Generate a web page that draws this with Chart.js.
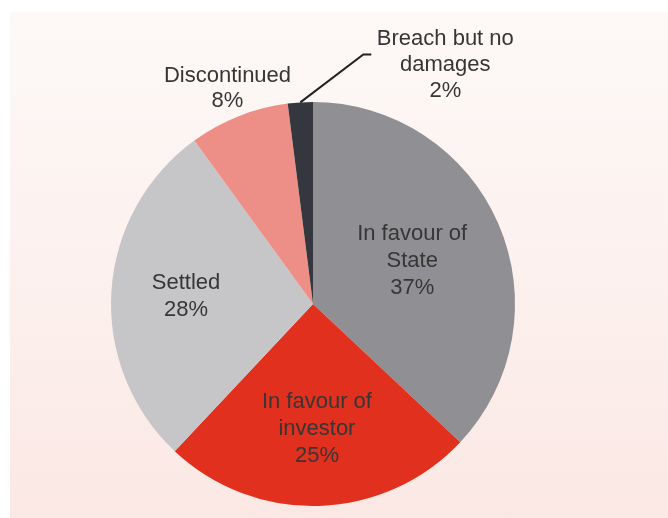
<!DOCTYPE html>
<html>
<head>
<meta charset="utf-8">
<script src="https://cdn.jsdelivr.net/npm/chart.js@4/dist/chart.umd.min.js"></script>
<style>
  html, body { margin: 0; padding: 0; background: #ffffff; }
  #wrap { position: relative; width: 668px; height: 518px; overflow: hidden; }
  #bg { position: absolute; left: 10px; top: 12px; right: 0; bottom: 0;
        background: linear-gradient(to bottom, #fdf9f7 0%, #fcf1ee 50%, #fbe8e4 100%); }
  canvas { position: absolute; left: 0; top: 0; }
</style>
</head>
<body>
<div id="wrap">
  <div id="bg"></div>
  <canvas id="c" width="668" height="518"></canvas>
</div>
<script>
// ---- data ----
const categories = ["In favour of State", "In favour of investor", "Settled", "Discontinued", "Breach but no damages"];
const shares = [37, 25, 28, 8, 2];
const sliceColors = ["#909094", "#e1301e", "#c6c6c9", "#ee8f87", "#34383e"];
const labelLines = [
  ["In favour of", "State", "37%"],
  ["In favour of", "investor", "25%"],
  ["Settled", "28%"],
  ["Discontinued", "8%"],
  ["Breach but no", "damages", "2%"]
];
// radial placement of each label as a fraction of the pie radius
const labelRadius = [0.535, 0.62, 0.63, 1.15, null];

const labelPlugin = {
  id: 'sliceLabels',
  afterDatasetsDraw(chart) {
    const ctx = chart.ctx;
    const meta = chart.getDatasetMeta(0);
    ctx.save();
    ctx.font = '22px "Liberation Sans", Arial, sans-serif';
    ctx.fillStyle = '#363636';
    ctx.textAlign = 'center';
    ctx.textBaseline = 'middle';
    meta.data.forEach((arc, i) => {
      const p = arc.getProps(['x', 'y', 'startAngle', 'endAngle', 'outerRadius'], true);
      const mid = (p.startAngle + p.endAngle) / 2;
      const lines = labelLines[i];
      let cx, cy, lh;
      if (labelRadius[i] !== null) {
        const r = p.outerRadius * labelRadius[i];
        cx = p.x + Math.cos(mid) * r;
        cy = p.y + Math.sin(mid) * r;
        lh = i < 3 ? 27 : 25;
      } else {
        // callout with leader line
        const ex = p.x + Math.cos(mid) * p.outerRadius;
        const ey = p.y + Math.sin(mid) * p.outerRadius;
        const kx = ex + 63, ky = ey - 48;
        ctx.beginPath();
        ctx.strokeStyle = '#222222';
        ctx.lineWidth = 2;
        ctx.moveTo(ex, ey);
        ctx.lineTo(kx, ky);
        ctx.lineTo(kx + 8, ky);
        ctx.stroke();
        cx = kx + 82;
        cy = ky + 11;
        lh = 26;
      }
      const y0 = cy - (lines.length - 1) * lh / 2;
      lines.forEach((t, k) => ctx.fillText(t, cx, y0 + k * lh));
    });
    ctx.restore();
  }
};

new Chart(document.getElementById('c'), {
  type: 'pie',
  data: {
    labels: categories,
    datasets: [{
      data: shares,
      backgroundColor: sliceColors,
      borderWidth: 0
    }]
  },
  options: {
    responsive: false,
    animation: false,
    layout: { padding: { left: 111, right: 153, top: 102, bottom: 12 } },
    plugins: {
      legend: { display: false },
      tooltip: { enabled: false },
      title: { display: false }
    }
  },
  plugins: [labelPlugin]
});
</script>
</body>
</html>
